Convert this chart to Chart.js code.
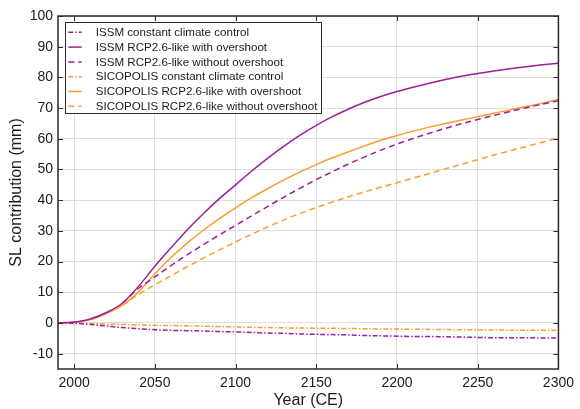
<!DOCTYPE html>
<html>
<head>
<meta charset="utf-8">
<script src="https://cdn.jsdelivr.net/npm/chart.js@4"></script>
<style>
html, body { margin: 0; padding: 0; background: #fff; }
</style>
</head>
<body>
<canvas id="sl_contribution" width="580" height="409"></canvas>
<script>
// years of the model output (CE)
var years = [1990, 2000, 2010, 2020, 2030, 2040, 2050, 2060, 2070, 2080, 2090, 2100,
             2110, 2120, 2130, 2140, 2150, 2160, 2170, 2180, 2190, 2200,
             2210, 2220, 2230, 2240, 2250, 2260, 2270, 2280, 2290, 2300]

// sea-level contribution in mm
var issm_control = [0, -0.1, -0.5, -1.0, -1.5, -1.9, -2.2, -2.4, -2.5, -2.6, -2.8, -2.9,
                    -3.1, -3.3, -3.4, -3.6, -3.7, -3.8, -3.9, -4.1, -4.2, -4.3,
                    -4.4, -4.4, -4.5, -4.6, -4.7, -4.8, -4.8, -4.8, -4.9, -4.9]
var issm_overshoot = [0, 0.3, 1.3, 3.4, 6.5, 12, 18.5, 24.5, 30.3, 35.6, 40.5, 45,
                      49.5, 53.7, 57.6, 61.2, 64.4, 67.2, 69.7, 71.9, 73.8, 75.4,
                      76.8, 78.1, 79.3, 80.4, 81.3, 82.1, 82.8, 83.5, 84.1, 84.6]
var issm_no_overshoot = [null, null, null, null, 6.5, 11.3, 15, 18.7, 22.2, 25.5, 28.7, 31.8,
                         34.9, 38, 41, 43.9, 46.7, 49.3, 51.8, 54.1, 56.3, 58.3,
                         60.1, 61.8, 63.4, 64.9, 66.3, 67.6, 68.9, 70.1, 71.3, 72.4]
var sico_control = [0, -0.05, -0.2, -0.35, -0.5, -0.65, -0.75, -0.85, -0.95, -1.05, -1.15, -1.3,
                    -1.4, -1.5, -1.6, -1.65, -1.7, -1.75, -1.8, -1.9, -1.95, -2.0,
                    -2.05, -2.1, -2.15, -2.2, -2.25, -2.3, -2.35, -2.4, -2.4, -2.4]
var sico_overshoot = [0, 0.2, 1.1, 3.1, 5.8, 10.2, 16, 21.3, 26, 30.2, 34, 37.5,
                      40.8, 43.8, 46.6, 49.2, 51.6, 53.8, 55.8, 57.7, 59.5, 61.1,
                      62.5, 63.8, 65, 66.1, 67.2, 68.3, 69.4, 70.5, 71.6, 72.8]
var sico_no_overshoot = [null, null, null, null, 5.8, 9.3, 12.4, 15.4, 18.3, 21.1, 23.8, 26.4,
                         28.9, 31.3, 33.6, 35.7, 37.6, 39.4, 41.1, 42.7, 44.2, 45.7,
                         47.2, 48.7, 50.2, 51.7, 53.2, 54.7, 56.1, 57.5, 58.9, 60.3]

var x_ticks = [2000, 2050, 2100, 2150, 2200, 2250, 2300]
var y_ticks = [-10, 0, 10, 20, 30, 40, 50, 60, 70, 80, 90, 100]

var purple = '#9c1e99'
var orange = '#ff9b2f'
var dashed = [6, 4]
var dashdot = [5, 2, 1.5, 2]
var font_family = '"Liberation Sans", Arial, Helvetica, sans-serif'

function createData(xValues, yValues) {
    return xValues.map((x, index) => {
        return { x: x, y: yValues[index] };
    });
}

function series(label, values, color, dash) {
    return {
        label: label,
        data: createData(years, values),
        borderColor: color,
        backgroundColor: color,
        borderWidth: 1.5,
        borderDash: dash,
        pointRadius: 0,
        fill: false,
        cubicInterpolationMode: 'monotone'
    };
}

// box around the axes with inward tick marks (matlab style)
var frame = {
    id: 'frame',
    afterDatasetsDraw(chart) {
        const ctx = chart.ctx, a = chart.chartArea;
        const xs = chart.scales.x, ys = chart.scales.y;
        ctx.save();
        ctx.strokeStyle = '#2b2b2b';
        ctx.lineWidth = 1;
        ctx.beginPath();
        x_ticks.forEach(v => {
            const px = Math.round(xs.getPixelForValue(v)) + 0.5;
            ctx.moveTo(px, a.bottom); ctx.lineTo(px, a.bottom - 5);
            ctx.moveTo(px, a.top); ctx.lineTo(px, a.top + 5);
        });
        y_ticks.forEach(v => {
            const py = Math.round(ys.getPixelForValue(v)) + 0.5;
            ctx.moveTo(a.left, py); ctx.lineTo(a.left + 5, py);
            ctx.moveTo(a.right, py); ctx.lineTo(a.right - 5, py);
        });
        ctx.stroke();
        ctx.lineWidth = 1.5;
        ctx.strokeRect(a.left, a.top, a.right - a.left, a.bottom - a.top);
        ctx.restore();
    }
};

// legend box in the upper left corner of the axes
var legendBox = {
    id: 'legendBox',
    afterDraw(chart) {
        const ctx = chart.ctx, a = chart.chartArea;
        const sets = chart.data.datasets;
        const x0 = a.left + 7, y0 = a.top + 6;
        const rowH = 14.8;
        ctx.save();
        ctx.font = '11.6px ' + font_family;
        let maxW = 0;
        sets.forEach(ds => { maxW = Math.max(maxW, ctx.measureText(ds.label).width); });
        const w = 30.7 + maxW + 4, h = rowH * sets.length + 2;
        ctx.fillStyle = '#fff';
        ctx.fillRect(x0, y0, w, h);
        ctx.strokeStyle = '#2b2b2b';
        ctx.lineWidth = 1;
        ctx.strokeRect(Math.round(x0) + 0.5, Math.round(y0) + 0.5, Math.round(w), Math.round(h));
        sets.forEach((ds, i) => {
            const cy = y0 + 10.3 + i * rowH;
            ctx.strokeStyle = ds.borderColor;
            ctx.lineWidth = ds.borderWidth;
            ctx.setLineDash(ds.borderDash || []);
            ctx.beginPath();
            ctx.moveTo(x0 + 3.3, cy);
            ctx.lineTo(x0 + 16.7, cy);
            ctx.stroke();
            ctx.setLineDash([]);
            ctx.fillStyle = '#1a1a1a';
            ctx.textBaseline = 'middle';
            ctx.fillText(ds.label, x0 + 30.7, cy + 0.5);
        });
        ctx.restore();
    }
};

Chart.defaults.font.family = font_family;
Chart.defaults.color = '#1a1a1a';

var sl_plot = document.getElementById('sl_contribution').getContext('2d');
var lineChart = new Chart(sl_plot, {
    type: 'line',
    data: {
        datasets: [
            series('ISSM constant climate control', issm_control, purple, dashdot),
            series('ISSM RCP2.6-like with overshoot', issm_overshoot, purple, []),
            series('ISSM RCP2.6-like without overshoot', issm_no_overshoot, purple, dashed),
            series('SICOPOLIS constant climate control', sico_control, orange, dashdot),
            series('SICOPOLIS RCP2.6-like with overshoot', sico_overshoot, orange, []),
            series('SICOPOLIS RCP2.6-like without overshoot', sico_no_overshoot, orange, dashed)
        ]
    },
    options: {
        responsive: false,
        animation: false,
        events: [],
        layout: {
            padding: { top: 16, right: 17, left: 0, bottom: 0 }
        },
        scales: {
            x: {
                type: 'linear',
                min: 1990,
                max: 2300,
                afterBuildTicks: axis => { axis.ticks = x_ticks.map(v => ({ value: v })); },
                afterFit: axis => { axis.height = 40; },
                grid: { color: '#dedede', drawTicks: false },
                border: { display: false },
                ticks: {
                    autoSkip: false,
                    maxRotation: 0,
                    padding: 6,
                    font: { size: 14 },
                    callback: v => String(v)
                },
                title: {
                    display: true,
                    text: 'Year (CE)',
                    font: { size: 16, lineHeight: 1 },
                    padding: { top: 0, bottom: 0 }
                }
            },
            y: {
                min: -15,
                max: 100,
                afterBuildTicks: axis => { axis.ticks = y_ticks.map(v => ({ value: v })); },
                afterFit: axis => { axis.width = 58; },
                grid: { color: '#dedede', drawTicks: false },
                border: { display: false },
                ticks: {
                    padding: 5,
                    font: { size: 14 },
                    callback: v => String(v)
                },
                title: {
                    display: true,
                    text: 'SL contribution (mm)',
                    font: { size: 16, lineHeight: 1 },
                    padding: { top: 9, bottom: 0 }
                }
            }
        },
        plugins: {
            legend: { display: false },
            tooltip: { enabled: false }
        }
    },
    plugins: [frame, legendBox]
});
</script>
</body>
</html>
